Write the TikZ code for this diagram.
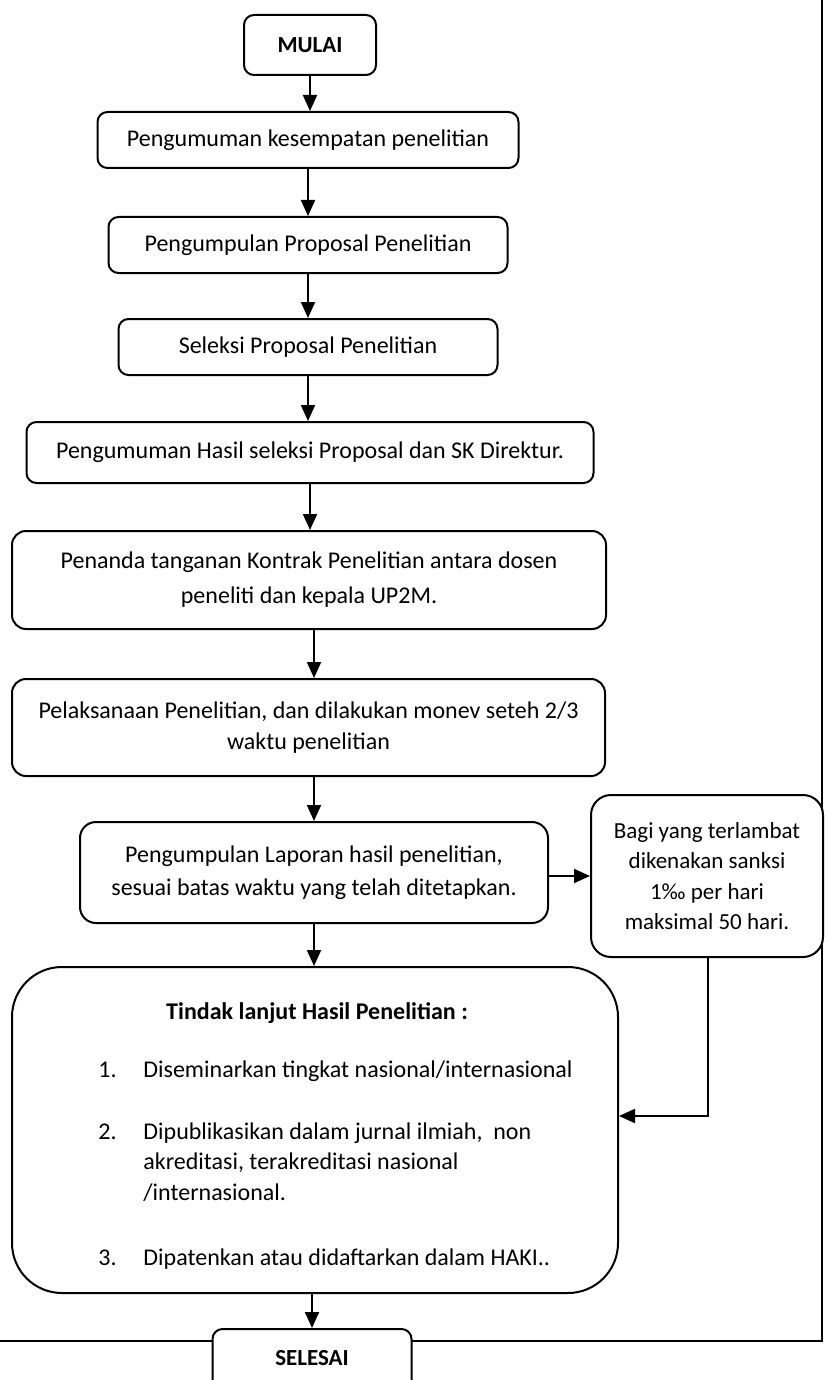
\documentclass[tikz,border=0pt]{standalone}
\usepackage{fontspec}
\setmainfont{Carlito}
\usetikzlibrary{arrows.meta}
\begin{document}
\begin{tikzpicture}[x=0.5pt,y=-0.5pt,
  box/.style={draw, fill=white, line width=1pt, rounded corners=5pt, align=center, inner sep=0pt,
    font=\fontsize{12}{14}\selectfont},
  txt/.style={inner sep=0pt, font=\fontsize{12}{14}\selectfont},
  arr/.style={-{Triangle[width=7pt,length=8pt]}, line width=1pt},
]
\path[use as bounding box] (0,0) rectangle (826,1380);
\clip (0,0) rectangle (826,1380);
% frame
\draw[line width=1pt] (822,-5) -- (822,1341) -- (-5,1341);
% nodes
\node[box, minimum width=66pt, minimum height=30pt, font=\fontsize{11.5}{14}\selectfont] (mulai) at (310,45) {\bfseries MULAI};
\node[box, minimum width=210.5pt, minimum height=28pt] (b1) at (308,140) {Pengumuman kesempatan penelitian};
\node[box, minimum width=199.5pt, minimum height=28pt] (b2) at (308,245) {Pengumpulan Proposal Penelitian};
\node[box, minimum width=189.5pt, minimum height=28pt] (b3) at (308,347) {Seleksi Proposal Penelitian};
\node[box, minimum width=283.5pt, minimum height=30.5pt] (b4) at (310,452.5) {Pengumuman Hasil seleksi Proposal dan SK Direktur.};
\node[box, rounded corners=7pt, minimum width=297pt, minimum height=49pt, font=\fontsize{12}{17.5}\selectfont] (b5) at (309,580)
  {Penanda tanganan Kontrak Penelitian antara dosen\\peneliti dan kepala UP2M.};
\node[box, rounded corners=7pt, minimum width=296.5pt, minimum height=48.5pt, font=\fontsize{12}{15.5}\selectfont] (b6) at (308.5,727.5)
  {Pelaksanaan Penelitian, dan dilakukan monev seteh 2/3\\waktu penelitian};
\node[box, rounded corners=8pt, minimum width=234pt, minimum height=50.5pt, font=\fontsize{12}{16.5}\selectfont] (b7) at (314,872.5)
  {Pengumpulan Laporan hasil penelitian,\\sesuai batas waktu yang telah ditetapkan.};
\node[box, rounded corners=10pt, minimum width=116pt, minimum height=81pt, font=\fontsize{11.5}{15.25}\selectfont] (sanksi) at (707,876)
  {Bagi yang terlambat\\dikenakan sanksi\\1‰ per hari\\maksimal 50 hari.};
\node[box, rounded corners=25pt, minimum width=303pt, minimum height=163pt] (tindak) at (315,1130) {};
\node[txt, anchor=base] (judul) at (317,1019.5) {\bfseries Tindak lanjut Hasil Penelitian :};
\node[txt, anchor=base west] (n1) at (98,1077.5) {1.};
\node[txt, anchor=base west] (t1) at (143,1077.5) {Diseminarkan tingkat nasional/internasional};
\node[txt, anchor=base west] (n2) at (98,1139.5) {2.};
\node[txt, anchor=base west] (t2a) at (143,1139.5) {Dipublikasikan dalam jurnal ilmiah,\ \ non};
\node[txt, anchor=base west] (t2b) at (143,1169.5) {akreditasi, terakreditasi nasional};
\node[txt, anchor=base west] (t2c) at (143,1200.5) {/internasional.};
\node[txt, anchor=base west] (n3) at (98,1265.5) {3.};
\node[txt, anchor=base west] (t3) at (143,1265.5) {Dipatenkan atau didaftarkan dalam HAKI..};
\node[box, anchor=north, minimum width=99.5pt, inner ysep=0pt, text height=18.25pt, text depth=30pt, font=\fontsize{11.5}{14}\selectfont] (selesai) at (312,1328) {\bfseries SELESAI};
% connectors
\draw[arr] (mulai.south) -- (mulai.south |- b1.north);
\draw[arr] (b1.south) -- (b1.south |- b2.north);
\draw[arr] (b2.south) -- (b2.south |- b3.north);
\draw[arr] (b3.south) -- (b3.south |- b4.north);
\draw[arr] (b4.south) -- (b4.south |- b5.north);
\draw[arr] (b5.south -| b7.north) -- (b6.north -| b7.north);
\draw[arr] (b6.south -| b7.north) -- (b7.north);
\draw[arr] (b7.south) -- (b7.south |- tindak.north);
\draw[arr] (b7.east |- sanksi.west) -- (sanksi.west);
\draw[arr] (tindak.south -| selesai.north) -- (selesai.north);
\coordinate (fb) at (708,1116);
\draw[arr] (sanksi.south -| fb) -- (fb) -- (tindak.east |- fb);
\end{tikzpicture}
\end{document}
